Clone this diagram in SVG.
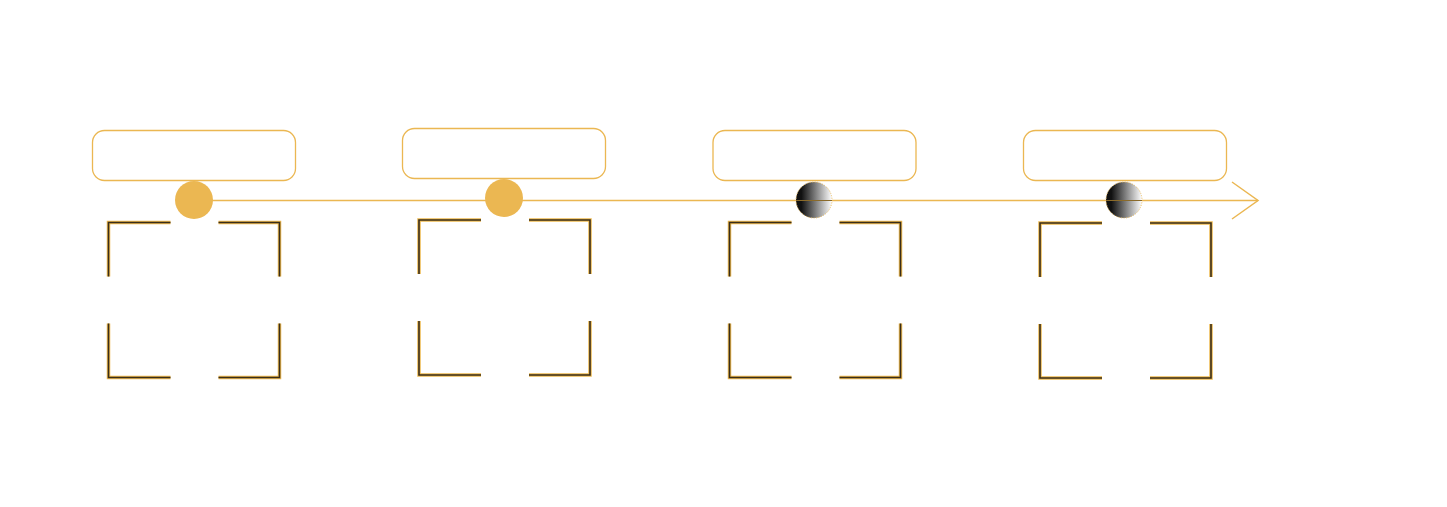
<svg xmlns="http://www.w3.org/2000/svg" width="1447" height="507" viewBox="0 0 1447 507">
<style>
.box{fill:#fff;stroke:#EBB752;stroke-width:1.3}
.gold{fill:none;stroke:#EDB94F;stroke-width:3.5}
.dark{fill:none;stroke:#3a2e1a;stroke-width:1.6}
.dot{fill:#EBB752}
.grad{fill:url(#g);stroke:#EBB752;stroke-width:1;stroke-dasharray:1 1.5}
.line{fill:none;stroke:#EBB752;stroke-width:1.5}
</style>
<defs>
<linearGradient id="g" x1="0" y1="0" x2="1" y2="0">
<stop offset="0.15" stop-color="#111"/>
<stop offset="1" stop-color="#fff"/>
</linearGradient>
<g id="br">
<path d="M0,54 V0 H62 M110,0 H171 V54 M0,101 V155 H62 M110,155 H171 V101"/>
</g>
</defs>
<g id="connectors">
<path class="line" d="M194,200.5 H1258"/>
<path class="line" d="M1232,182 L1258,200.5 L1232,219"/>
</g>
<g id="node1">
<rect class="box" x="92.5" y="130.5" width="203" height="50" rx="12"/>
<circle class="dot" cx="194" cy="200" r="19"/>
<use href="#br" class="gold" x="108.5" y="222.5"/>
<use href="#br" class="dark" x="108.5" y="222.5"/>
</g>
<g id="node2">
<rect class="box" x="402.5" y="128.5" width="203" height="50" rx="12"/>
<circle class="dot" cx="504" cy="198" r="19"/>
<use href="#br" class="gold" x="419" y="220"/>
<use href="#br" class="dark" x="419" y="220"/>
</g>
<g id="node3">
<rect class="box" x="713" y="130.5" width="203" height="50" rx="12"/>
<circle class="grad" cx="814" cy="200" r="18"/>
<use href="#br" class="gold" x="729.5" y="222.5"/>
<use href="#br" class="dark" x="729.5" y="222.5"/>
</g>
<g id="node4">
<rect class="box" x="1023.5" y="130.5" width="203" height="50" rx="12"/>
<circle class="grad" cx="1124" cy="200" r="18"/>
<use href="#br" class="gold" x="1040" y="223"/>
<use href="#br" class="dark" x="1040" y="223"/>
</g>
<path class="line" d="M796,200.5 H832 M1106,200.5 H1142" style="stroke:#8a6a2a;stroke-width:1"/>
</svg>
